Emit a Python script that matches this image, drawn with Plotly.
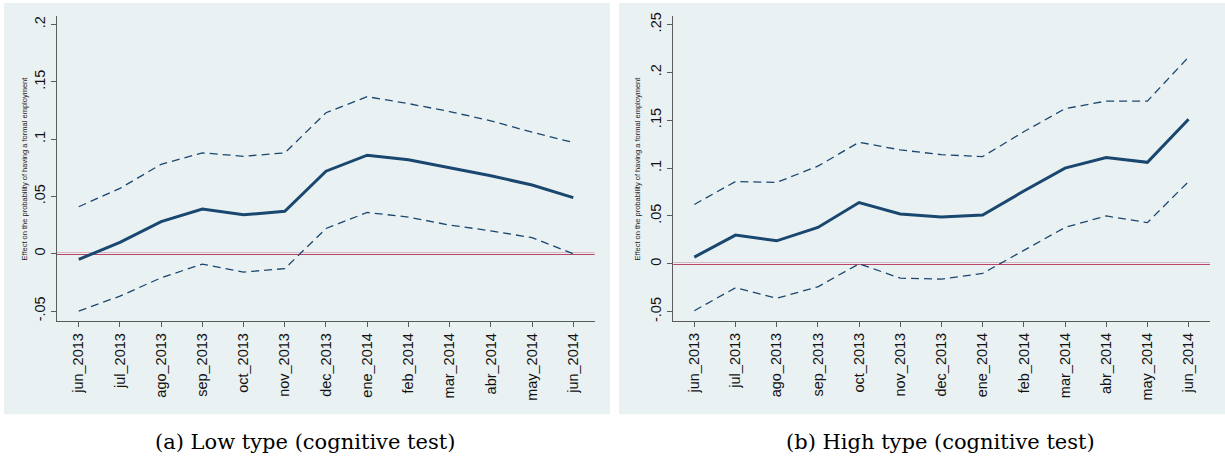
import plotly.graph_objects as go

months = ["jun_2013", "jul_2013", "ago_2013", "sep_2013", "oct_2013", "nov_2013",
          "dec_2013", "ene_2014", "feb_2014", "mar_2014", "abr_2014", "may_2014", "jun_2014"]

low_est = [-0.005, 0.010, 0.028, 0.039, 0.034, 0.037, 0.072, 0.086, 0.082, 0.075, 0.068, 0.060, 0.049]
low_upper = [0.041, 0.057, 0.078, 0.088, 0.085, 0.088, 0.123, 0.137, 0.131, 0.124, 0.116, 0.106, 0.097]
low_lower = [-0.050, -0.037, -0.021, -0.009, -0.016, -0.013, 0.022, 0.036, 0.032, 0.025, 0.020, 0.014, 0.000]

high_est = [0.007, 0.030, 0.024, 0.038, 0.064, 0.052, 0.049, 0.051, 0.076, 0.100, 0.111, 0.106, 0.151]
high_upper = [0.062, 0.086, 0.085, 0.102, 0.127, 0.119, 0.114, 0.112, 0.138, 0.162, 0.170, 0.170, 0.216]
high_lower = [-0.049, -0.025, -0.036, -0.024, 0.000, -0.015, -0.016, -0.010, 0.014, 0.038, 0.050, 0.043, 0.086]

low_yticks = [-0.05, 0, 0.05, 0.1, 0.15, 0.2]
low_yticktext = ["-.05", "0", ".05", ".1", ".15", ".2"]
high_yticks = [-0.05, 0, 0.05, 0.1, 0.15, 0.2, 0.25]
high_yticktext = ["-.05", "0", ".05", ".1", ".15", ".2", ".25"]

ytitle = "Effect on the probability of having a formal employment"
captions = ["(a) Low type (cognitive test)", "(b) High type (cognitive test)"]

W, H = 1225, 466
NAVY = "#1a476f"
RED = "#a80e38"
AXC = "#5a5a5a"
BG = "#eaf1f3"
GRID = "#e8f0f2"

xs = list(range(len(months)))

fig = go.Figure()

panels = [
    ("x", "y", low_est, low_upper, low_lower),
    ("x2", "y2", high_est, high_upper, high_lower),
]
for xa, ya, est, up, lo in panels:
    for band in (up, lo):
        fig.add_trace(go.Scatter(x=xs, y=band, mode="lines", xaxis=xa, yaxis=ya,
                                 line=dict(color=NAVY, width=1.3, dash="8px,5px"),
                                 showlegend=False, hoverinfo="skip"))
    fig.add_trace(go.Scatter(x=xs, y=est, mode="lines", xaxis=xa, yaxis=ya,
                             line=dict(color=NAVY, width=3),
                             showlegend=False, hoverinfo="skip"))

def px_x(p):
    return p / W

def px_y(p):
    return 1 - p / H

# Panel backgrounds
fig.add_shape(type="rect", xref="paper", yref="paper", x0=px_x(4), x1=px_x(610),
              y0=px_y(414.7), y1=1, fillcolor=BG, line_width=0, layer="below")
fig.add_shape(type="rect", xref="paper", yref="paper", x0=px_x(619), x1=1,
              y0=px_y(414.7), y1=1, fillcolor=BG, line_width=0, layer="below")

# zero lines
fig.add_shape(type="line", xref="x domain", yref="y", x0=0, x1=1, y0=0, y1=0,
              line=dict(color=RED, width=2), layer="below")
fig.add_shape(type="line", xref="x2 domain", yref="y2", x0=0, x1=1, y0=0, y1=0,
              line=dict(color=RED, width=2), layer="below")

tickfont = dict(family="Liberation Sans, Arial, sans-serif", size=14.5, color="#111")

xcommon = dict(tickmode="array", tickvals=xs, ticktext=months, tickangle=-90,
               ticks="outside", ticklen=5, tickcolor=AXC, tickwidth=1,
               showline=True, linecolor=AXC, linewidth=1.2, showgrid=False,
               zeroline=False, tickfont=tickfont)
ycommon = dict(tickangle=-90, ticks="outside", ticklen=5, tickcolor=AXC, tickwidth=1,
               showline=True, linecolor=AXC, linewidth=1.2, showgrid=True,
               gridcolor=GRID, gridwidth=1.2, zeroline=False, tickfont=tickfont)

fig.update_layout(
    width=W, height=H,
    margin=dict(l=0, r=0, t=0, b=0),
    paper_bgcolor="white",
    plot_bgcolor="white",
    showlegend=False,
    xaxis=dict(**xcommon, anchor="y",
               domain=[px_x(57), px_x(594.7)], range=[-0.527, 12.52]),
    yaxis=dict(**ycommon, anchor="x", domain=[px_y(321), px_y(13)],
               range=[-0.0589, 0.2075], tickmode="array",
               tickvals=low_yticks, ticktext=low_yticktext),
    xaxis2=dict(**xcommon, anchor="y2",
                domain=[px_x(673.3), px_x(1210)], range=[-0.51, 12.52]),
    yaxis2=dict(**ycommon, anchor="x2", domain=[px_y(320.7), px_y(12.7)],
                range=[-0.0597, 0.2593], tickmode="array",
                tickvals=high_yticks, ticktext=high_yticktext),
)

for xpx, ypx in ((25, 167), (638, 167)):
    fig.add_annotation(x=px_x(xpx), y=px_y(ypx), xref="paper", yref="paper",
                       text=ytitle, textangle=-90, showarrow=False,
                       font=dict(family="Liberation Sans, Arial, sans-serif", size=7.5, color="#222"),
                       xanchor="center", yanchor="middle")

for xpx, cap in ((305, captions[0]), (940, captions[1])):
    fig.add_annotation(x=px_x(xpx), y=px_y(443), xref="paper", yref="paper",
                       text=cap, showarrow=False,
                       font=dict(family="DejaVu Serif, serif", size=21, color="#000"),
                       xanchor="center", yanchor="middle")

fig.write_html("out.html")
